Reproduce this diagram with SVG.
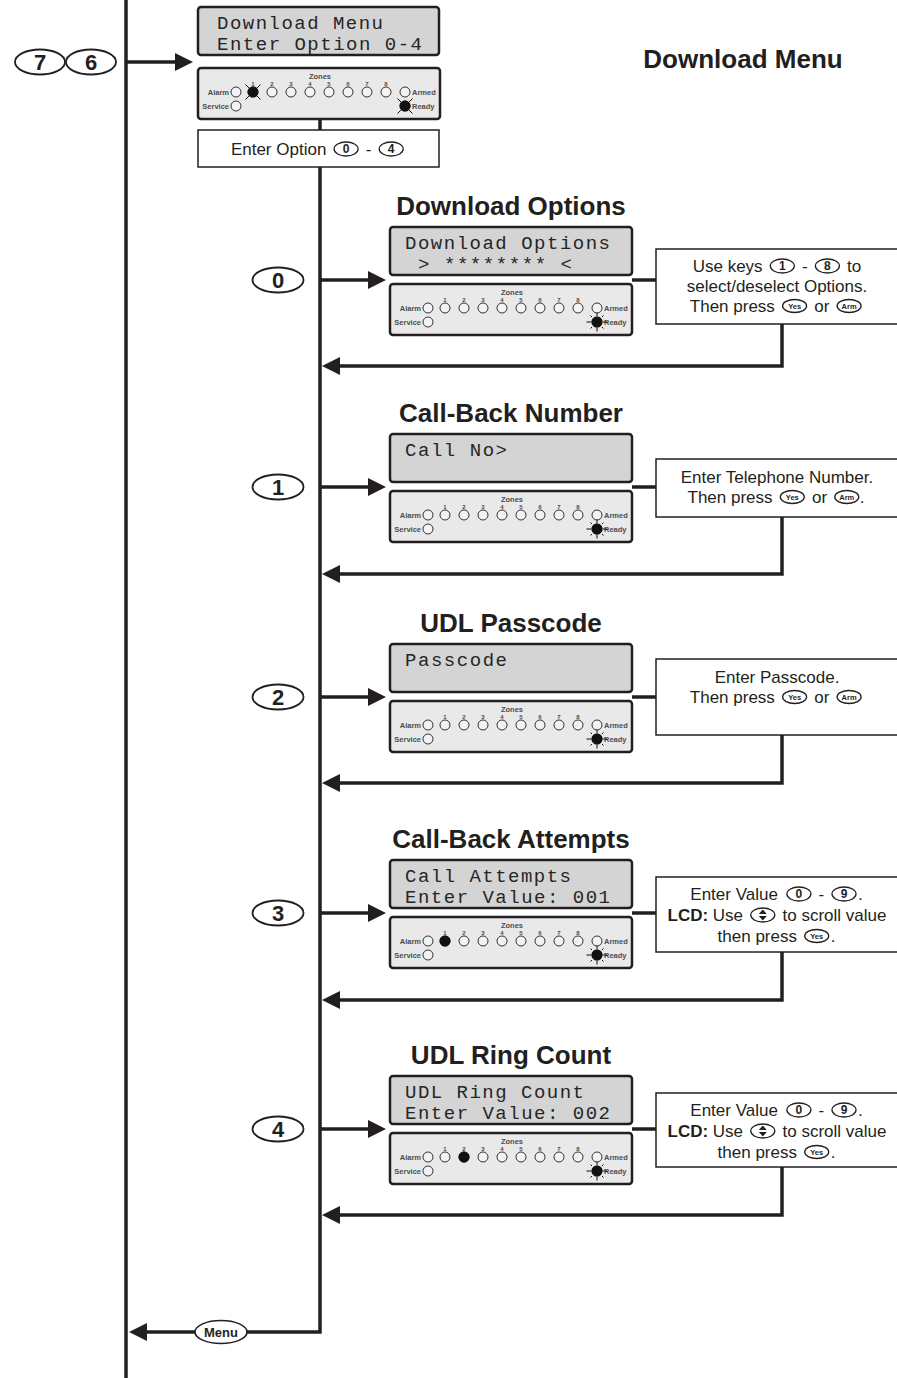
<svg xmlns="http://www.w3.org/2000/svg" xmlns:xlink="http://www.w3.org/1999/xlink" width="897" height="1378" viewBox="0 0 897 1378">
<style>
.ln{stroke:#231f20;stroke-width:3.5;fill:none;stroke-linejoin:miter}
.lcd{fill:#d4d4d4;stroke:#231f20;stroke-width:2.5}
.pnl{fill:#e9e9e9;stroke:#231f20;stroke-width:2.5}
.box{fill:#fff;stroke:#231f20;stroke-width:1.5}
.lcdt{font-family:"Liberation Mono","DejaVu Sans Mono",monospace;font-size:19px;fill:#262626}
.title{font-family:"Liberation Sans",Arial,sans-serif;font-weight:bold;font-size:26px;fill:#231f20;text-anchor:middle}
.bt{font-family:"Liberation Sans",Arial,sans-serif;font-size:17px;fill:#231f20}
.bb{font-weight:bold}
.mid{text-anchor:middle}
.key{fill:#fff;stroke:#231f20;stroke-width:1.3}
.kt{font-family:"Liberation Sans",Arial,sans-serif;font-weight:bold;font-size:12px;fill:#231f20;text-anchor:middle}
.st{font-family:"Liberation Sans",Arial,sans-serif;font-weight:bold;font-size:7.5px;fill:#231f20;text-anchor:middle}
.big{fill:#fff;stroke:#231f20;stroke-width:1.8}
.bigt{font-family:"Liberation Sans",Arial,sans-serif;font-weight:bold;font-size:22px;fill:#231f20;text-anchor:middle}
.led{fill:#f3f3f3;stroke:#333;stroke-width:1}
.lt{font-family:"Liberation Sans",Arial,sans-serif;font-weight:bold;font-size:7.5px;fill:#4d4d4d}
.zn{font-family:"Liberation Sans",Arial,sans-serif;font-weight:bold;font-size:6px;fill:#4d4d4d;text-anchor:middle}
.on{fill:#111}
.ray{stroke:#111;stroke-width:1}
</style>
<defs>
<marker id="ah" markerWidth="20" markerHeight="20" refX="8" refY="9" orient="auto" markerUnits="userSpaceOnUse"><path d="M0,0 L18,9 L0,18 z" fill="#231f20"/></marker>
<g id="pnl">
<rect class="pnl" x="0" y="0" width="242" height="51" rx="3"/>
<text class="lt" x="122" y="11" text-anchor="middle">Zones</text>
<text class="zn" x="55" y="17.5">1</text><text class="zn" x="74" y="17.5">2</text><text class="zn" x="93" y="17.5">3</text><text class="zn" x="112" y="17.5">4</text><text class="zn" x="131" y="17.5">5</text><text class="zn" x="150" y="17.5">6</text><text class="zn" x="169" y="17.5">7</text><text class="zn" x="188" y="17.5">8</text>
<text class="lt" x="31" y="27" text-anchor="end">Alarm</text>
<text class="lt" x="214" y="27">Armed</text>
<text class="lt" x="31" y="41" text-anchor="end">Service</text>
<text class="lt" x="214" y="41">Ready</text>
<circle class="led" cx="38" cy="24" r="5"/>
<circle class="led" cx="55" cy="24" r="5"/><circle class="led" cx="74" cy="24" r="5"/><circle class="led" cx="93" cy="24" r="5"/><circle class="led" cx="112" cy="24" r="5"/><circle class="led" cx="131" cy="24" r="5"/><circle class="led" cx="150" cy="24" r="5"/><circle class="led" cx="169" cy="24" r="5"/><circle class="led" cx="188" cy="24" r="5"/>
<circle class="led" cx="207" cy="24" r="5"/>
<circle class="led" cx="38" cy="38" r="5"/>
<circle class="led" cx="207" cy="38" r="5"/>
</g>
<g id="ledx"><circle class="on" cx="0" cy="0" r="5.5"/><path class="ray" d="M-7.5,-7.5 L7.5,7.5 M-7.5,7.5 L7.5,-7.5"/></g>
<g id="ledsun"><circle class="on" cx="0" cy="0" r="5.5"/><path class="ray" d="M-10.5,0 H-6 M6,0 H10.5 M0,-9.5 V-6 M0,6 V9.5 M-6.5,-6.5 L-5,-5 M6.5,-6.5 L5,-5 M-6.5,6.5 L-5,5 M6.5,6.5 L5,5"/></g>
<g id="ledon"><circle class="on" cx="0" cy="0" r="5.5"/></g>
<g id="scroll"><ellipse class="key" cx="0" cy="0" rx="12" ry="7"/><path d="M-4,-1 L0,-5.5 L4,-1 z M-4,1 L0,5.5 L4,1 z" fill="#231f20"/></g>
</defs>

<rect x="0" y="0" width="897" height="1378" fill="#fff"/>

<g id="connectors">
<path class="ln" d="M126,0 V1378"/>
<path class="ln" d="M126,62 H183" marker-end="url(#ah)"/>
<path class="ln" d="M320,117 V130"/>
<path class="ln" d="M320,167 V1332 H247"/>
<path class="ln" d="M195,1332 H139" marker-end="url(#ah)"/>
<path class="ln" d="M320,280 H376" marker-end="url(#ah)"/>
<path class="ln" d="M320,487 H376" marker-end="url(#ah)"/>
<path class="ln" d="M320,697 H376" marker-end="url(#ah)"/>
<path class="ln" d="M320,913 H376" marker-end="url(#ah)"/>
<path class="ln" d="M320,1129 H376" marker-end="url(#ah)"/>
<path class="ln" d="M632,280 H656"/>
<path class="ln" d="M632,487 H656"/>
<path class="ln" d="M632,697 H656"/>
<path class="ln" d="M632,913 H656"/>
<path class="ln" d="M632,1129 H656"/>
<path class="ln" d="M782,324 V366 H332" marker-end="url(#ah)"/>
<path class="ln" d="M782,517 V574 H332" marker-end="url(#ah)"/>
<path class="ln" d="M782,735 V783 H332" marker-end="url(#ah)"/>
<path class="ln" d="M782,952 V1000 H332" marker-end="url(#ah)"/>
<path class="ln" d="M782,1167 V1215 H332" marker-end="url(#ah)"/>
</g>

<g id="entry-keys">
<ellipse class="big" cx="40" cy="62" rx="25" ry="12.5"/><text class="bigt" x="40" y="70">7</text>
<ellipse class="big" cx="91" cy="62" rx="25" ry="12.5"/><text class="bigt" x="91" y="70">6</text>
</g>

<g id="header">
<text class="title" x="743" y="68">Download Menu</text>
</g>

<g id="menu-lcd">
<rect class="lcd" x="198" y="7" width="241" height="48" rx="3"/>
<text class="lcdt" x="217" y="29" textLength="166" lengthAdjust="spacing">Download Menu</text>
<text class="lcdt" x="217" y="50" textLength="205" lengthAdjust="spacing">Enter Option 0-4</text>
</g>
<g id="menu-panel">
<use xlink:href="#pnl" x="198" y="68"/>
<use xlink:href="#ledx" x="253" y="92"/>
<use xlink:href="#ledx" x="405" y="106"/>
</g>
<g id="menu-option">
<rect class="box" x="198" y="130" width="241" height="37"/>
<text class="bt" x="230.9" y="155">Enter Option</text>
<ellipse class="key" cx="346.1" cy="149" rx="12" ry="7"/><text class="kt" x="346.1" y="153.3">0</text>
<text class="bt mid" x="368.7" y="155">-</text>
<ellipse class="key" cx="391.2" cy="149" rx="12" ry="7"/><text class="kt" x="391.2" y="153.3">4</text>
</g>

<!-- Section 0 -->
<g id="opt0">
<text class="title" x="511" y="215">Download Options</text>
<ellipse class="big" cx="278" cy="280" rx="25.5" ry="12.5"/><text class="bigt" x="278" y="288">0</text>
<rect class="lcd" x="390" y="227" width="242" height="48" rx="3"/>
<text class="lcdt" x="405" y="249" textLength="205" lengthAdjust="spacing">Download Options</text>
<text class="lcdt" x="418" y="270" textLength="154" lengthAdjust="spacing">&gt; ******** &lt;</text>
<use xlink:href="#pnl" x="390" y="284"/>
<use xlink:href="#ledsun" x="597" y="322"/>
</g>
<g id="opt0-help">
<rect class="box" x="656" y="249" width="245" height="75"/>
<text class="bt" x="692.7" y="272">Use keys</text>
<ellipse class="key" cx="782.3" cy="266" rx="12" ry="7"/><text class="kt" x="782.3" y="270.3">1</text>
<text class="bt mid" x="804.9" y="272">-</text>
<ellipse class="key" cx="827.4" cy="266" rx="12" ry="7"/><text class="kt" x="827.4" y="270.3">8</text>
<text class="bt" x="847.1" y="272">to</text>
<text class="bt mid" x="777" y="292">select/deselect Options.</text>
<text class="bt" x="689.8" y="312">Then press</text>
<ellipse class="key" cx="794.6" cy="306" rx="12" ry="6.5"/><text class="st" x="794.6" y="308.6">Yes</text>
<text class="bt" x="814.3" y="312">or</text>
<ellipse class="key" cx="849.1" cy="306" rx="12" ry="6.5"/><text class="st" x="849.1" y="308.6">Arm</text>
</g>

<!-- Section 1 -->
<g id="opt1">
<text class="title" x="511" y="422">Call-Back Number</text>
<ellipse class="big" cx="278" cy="487" rx="25.5" ry="12.5"/><text class="bigt" x="278" y="495">1</text>
<rect class="lcd" x="390" y="434" width="242" height="48" rx="3"/>
<text class="lcdt" x="405" y="456" textLength="102" lengthAdjust="spacing">Call No&gt;</text>
<use xlink:href="#pnl" x="390" y="491"/>
<use xlink:href="#ledsun" x="597" y="529"/>
</g>
<g id="opt1-help">
<rect class="box" x="656" y="459" width="245" height="58"/>
<text class="bt mid" x="777" y="483">Enter Telephone Number.</text>
<text class="bt" x="687.5" y="503">Then press</text>
<ellipse class="key" cx="792.3" cy="497" rx="12" ry="6.5"/><text class="st" x="792.3" y="499.6">Yes</text>
<text class="bt" x="812" y="503">or</text>
<ellipse class="key" cx="846.8" cy="497" rx="12" ry="6.5"/><text class="st" x="846.8" y="499.6">Arm</text>
<text class="bt" x="859.8" y="503">.</text>
</g>

<!-- Section 2 -->
<g id="opt2">
<text class="title" x="511" y="632">UDL Passcode</text>
<ellipse class="big" cx="278" cy="697" rx="25.5" ry="12.5"/><text class="bigt" x="278" y="705">2</text>
<rect class="lcd" x="390" y="644" width="242" height="48" rx="3"/>
<text class="lcdt" x="405" y="666" textLength="102" lengthAdjust="spacing">Passcode</text>
<use xlink:href="#pnl" x="390" y="701"/>
<use xlink:href="#ledsun" x="597" y="739"/>
</g>
<g id="opt2-help">
<rect class="box" x="656" y="659" width="245" height="76"/>
<text class="bt mid" x="777" y="683">Enter Passcode.</text>
<text class="bt" x="689.8" y="703">Then press</text>
<ellipse class="key" cx="794.6" cy="697" rx="12" ry="6.5"/><text class="st" x="794.6" y="699.6">Yes</text>
<text class="bt" x="814.3" y="703">or</text>
<ellipse class="key" cx="849.1" cy="697" rx="12" ry="6.5"/><text class="st" x="849.1" y="699.6">Arm</text>
</g>

<!-- Section 3 -->
<g id="opt3">
<text class="title" x="511" y="848">Call-Back Attempts</text>
<ellipse class="big" cx="278" cy="913" rx="25.5" ry="12.5"/><text class="bigt" x="278" y="921">3</text>
<rect class="lcd" x="390" y="860" width="242" height="48" rx="3"/>
<text class="lcdt" x="405" y="882" textLength="166" lengthAdjust="spacing">Call Attempts</text>
<text class="lcdt" x="405" y="903" textLength="205" lengthAdjust="spacing">Enter Value: 001</text>
<use xlink:href="#pnl" x="390" y="917"/>
<use xlink:href="#ledon" x="445" y="941"/>
<use xlink:href="#ledsun" x="597" y="955"/>
</g>
<g id="opt3-help">
<rect class="box" x="656" y="877" width="245" height="75"/>
<text class="bt" x="690.3" y="900">Enter Value</text>
<ellipse class="key" cx="798.9" cy="894" rx="12" ry="7"/><text class="kt" x="798.9" y="898.3">0</text>
<text class="bt mid" x="821.4" y="900">-</text>
<ellipse class="key" cx="844" cy="894" rx="12" ry="7"/><text class="kt" x="844" y="898.3">9</text>
<text class="bt" x="858" y="900">.</text>
<text class="bt" x="667.5" y="921"><tspan class="bb">LCD:</tspan> Use</text>
<use xlink:href="#scroll" x="762.8" y="915"/>
<text class="bt" x="782.5" y="921">to scroll value</text>
<text class="bt" x="717.6" y="942">then press</text>
<ellipse class="key" cx="816.7" cy="936" rx="12" ry="6.5"/><text class="st" x="816.7" y="938.6">Yes</text>
<text class="bt" x="830.7" y="942">.</text>
</g>

<!-- Section 4 -->
<g id="opt4">
<text class="title" x="511" y="1064">UDL Ring Count</text>
<ellipse class="big" cx="278" cy="1129" rx="25.5" ry="12.5"/><text class="bigt" x="278" y="1137">4</text>
<rect class="lcd" x="390" y="1076" width="242" height="48" rx="3"/>
<text class="lcdt" x="405" y="1098" textLength="179" lengthAdjust="spacing">UDL Ring Count</text>
<text class="lcdt" x="405" y="1119" textLength="205" lengthAdjust="spacing">Enter Value: 002</text>
<use xlink:href="#pnl" x="390" y="1133"/>
<use xlink:href="#ledon" x="464" y="1157"/>
<use xlink:href="#ledsun" x="597" y="1171"/>
</g>
<g id="opt4-help">
<rect class="box" x="656" y="1093" width="245" height="74"/>
<text class="bt" x="690.3" y="1116">Enter Value</text>
<ellipse class="key" cx="798.9" cy="1110" rx="12" ry="7"/><text class="kt" x="798.9" y="1114.3">0</text>
<text class="bt mid" x="821.4" y="1116">-</text>
<ellipse class="key" cx="844" cy="1110" rx="12" ry="7"/><text class="kt" x="844" y="1114.3">9</text>
<text class="bt" x="858" y="1116">.</text>
<text class="bt" x="667.5" y="1137"><tspan class="bb">LCD:</tspan> Use</text>
<use xlink:href="#scroll" x="762.8" y="1131"/>
<text class="bt" x="782.5" y="1137">to scroll value</text>
<text class="bt" x="717.6" y="1158">then press</text>
<ellipse class="key" cx="816.7" cy="1152" rx="12" ry="6.5"/><text class="st" x="816.7" y="1154.6">Yes</text>
<text class="bt" x="830.7" y="1158">.</text>
</g>

<g id="menu-key">
<ellipse class="key" cx="221" cy="1332" rx="26" ry="11.5" style="stroke-width:1.6"/>
<text class="kt" x="221" y="1336.5" style="font-size:13px">Menu</text>
</g>
</svg>
